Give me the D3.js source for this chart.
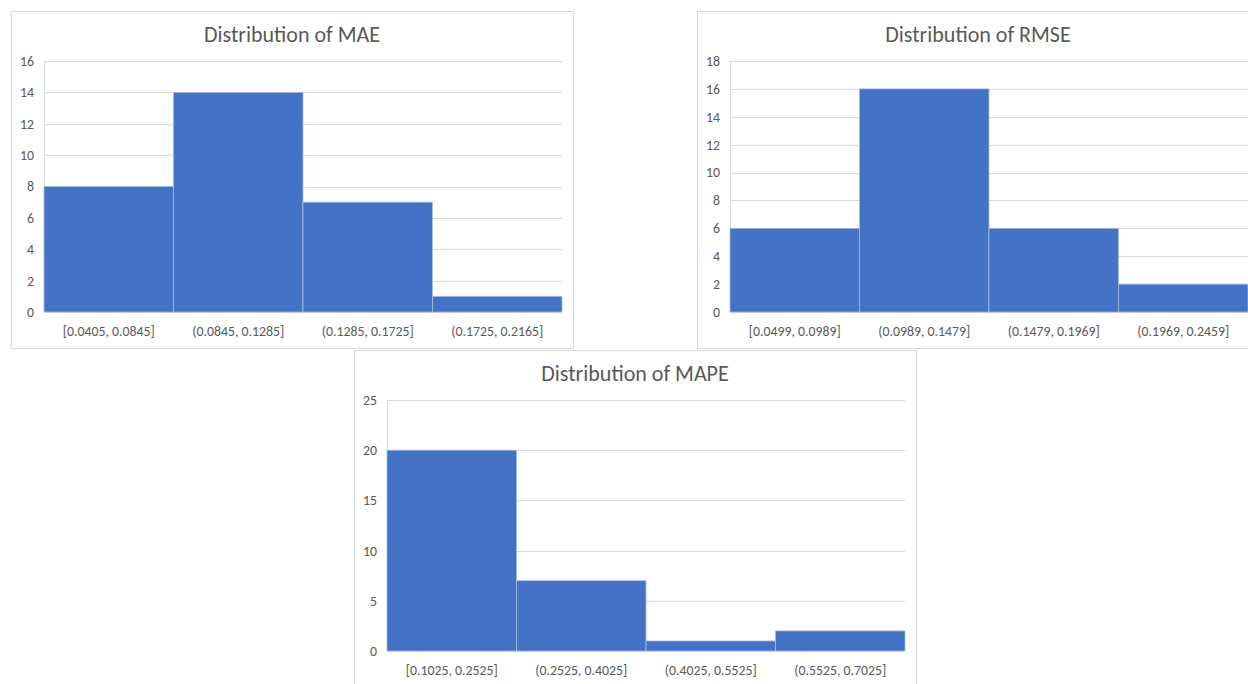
<!DOCTYPE html>
<html>
<head>
<meta charset="utf-8">
<script src="https://cdn.jsdelivr.net/npm/d3@7"></script>
<style>
  html, body { margin: 0; padding: 0; background: #ffffff; }
  svg { display: block; }
  text { font-family: Carlito, Lato, "Open Sans", sans-serif; fill: #595959; }
</style>
</head>
<body>
<svg id="chart" width="1248" height="684"></svg>
<script>
// Histogram bins and counts for each error metric
const maeBins = ["[0.0405, 0.0845]", "(0.0845, 0.1285]", "(0.1285, 0.1725]", "(0.1725, 0.2165]"];
const maeCounts = [8, 14, 7, 1];
const maeTicks = [0, 2, 4, 6, 8, 10, 12, 14, 16];

const rmseBins = ["[0.0499, 0.0989]", "(0.0989, 0.1479]", "(0.1479, 0.1969]", "(0.1969, 0.2459]"];
const rmseCounts = [6, 16, 6, 2];
const rmseTicks = [0, 2, 4, 6, 8, 10, 12, 14, 16, 18];

const mapeBins = ["[0.1025, 0.2525]", "(0.2525, 0.4025]", "(0.4025, 0.5525]", "(0.5525, 0.7025]"];
const mapeCounts = [20, 7, 1, 2];
const mapeTicks = [0, 5, 10, 15, 20, 25];

const svg = d3.select("#chart");

const panelW = 562, panelH = 337;
const plot = { left: 33, top: 50, width: 518, height: 251 };

function drawPanel(x0, y0, title, bins, counts, ticks) {
  const g = svg.append("g").attr("transform", `translate(${x0},${y0})`);

  g.append("rect")
    .attr("x", 0.5).attr("y", 0.5)
    .attr("width", panelW).attr("height", panelH)
    .attr("fill", "#ffffff")
    .attr("stroke", "#d9d9d9").attr("stroke-width", 1);

  g.append("text")
    .attr("x", panelW / 2).attr("y", 31)
    .attr("text-anchor", "middle")
    .style("font-size", "22px")
    .text(title);

  const p = g.append("g").attr("transform", `translate(${plot.left},${plot.top})`);

  const x = d3.scaleBand().domain(bins).range([0, plot.width]).padding(0);
  const y = d3.scaleLinear().domain([0, d3.max(ticks)]).range([plot.height, 0]);

  // horizontal gridlines
  p.append("g")
    .selectAll("line")
    .data(ticks)
    .join("line")
    .attr("x1", 0).attr("x2", plot.width)
    .attr("y1", d => Math.round(y(d)) + 0.5)
    .attr("y2", d => Math.round(y(d)) + 0.5)
    .attr("stroke", "#d9d9d9").attr("stroke-width", 1);

  // vertical axis line
  p.append("line")
    .attr("x1", 0.5).attr("x2", 0.5)
    .attr("y1", 0).attr("y2", plot.height)
    .attr("stroke", "#d9d9d9").attr("stroke-width", 1);

  // bars
  p.append("g")
    .selectAll("rect")
    .data(counts)
    .join("rect")
    .attr("x", (d, i) => x(bins[i]))
    .attr("y", d => y(d))
    .attr("width", x.bandwidth())
    .attr("height", d => plot.height - y(d))
    .attr("fill", "#4472c4")
    .attr("stroke", "#a9bde3")
    .attr("stroke-width", 0.8);

  // y axis labels
  const yAxis = d3.axisLeft(y).tickValues(ticks).tickSize(0).tickPadding(10);
  const ya = p.append("g").call(yAxis);
  ya.select(".domain").remove();
  ya.selectAll("text")
    .style("font-size", "13.8px")
    .style("font-family", null)
    .attr("fill", "#595959");

  // x axis labels
  const xAxis = d3.axisBottom(x).tickSize(0).tickPadding(14);
  const xa = p.append("g").attr("transform", `translate(0,${plot.height})`).call(xAxis);
  xa.select(".domain").remove();
  xa.selectAll("text")
    .style("font-size", "13.8px")
    .style("font-family", null)
    .attr("fill", "#595959");
}

drawPanel(11, 11, "Distribution of MAE", maeBins, maeCounts, maeTicks);
drawPanel(697, 11, "Distribution of RMSE", rmseBins, rmseCounts, rmseTicks);
drawPanel(354, 350, "Distribution of MAPE", mapeBins, mapeCounts, mapeTicks);
</script>
</body>
</html>
